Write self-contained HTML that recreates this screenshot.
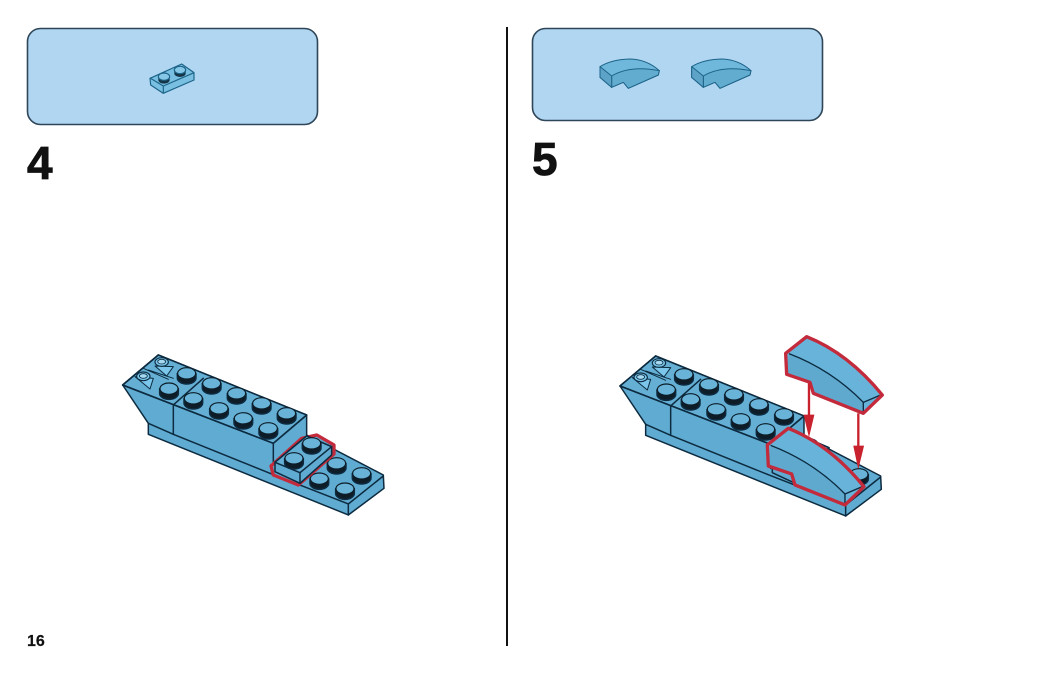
<!DOCTYPE html>
<html>
<head>
<meta charset="utf-8">
<title>Building steps 4 and 5</title>
<style>
html,body{margin:0;padding:0;background:#fff;width:1050px;height:673px;overflow:hidden}
svg{display:block}
text{font-family:"Liberation Sans",sans-serif;font-weight:700;fill:#111;stroke:#111}
</style>
</head>
<body>
<svg width="1050" height="673" viewBox="0 0 1050 673" xmlns="http://www.w3.org/2000/svg">
<defs>
<filter id="b" x="-5%" y="-5%" width="110%" height="110%"><feGaussianBlur stdDeviation="0.3"/></filter>
<g id="stud">
<path d="M-28,0 V14 A28,18 0 0 0 28,14 V0 Z" fill="#081d28"/>
<ellipse cx="0" cy="0" rx="27" ry="17" fill="#69b3d9" stroke="#081d28" stroke-width="3.5"/>
</g>
<g id="model" stroke="#0a2c3f" stroke-width="4.5" stroke-linejoin="round" stroke-linecap="round" fill="none">
<path d="M145,45 L590,225 V285 L820,405 L822,445 L715,525 L115,283 V250 L38,135 Z" fill="#61abd1"/>
<path d="M145,45 L590,225 L490,310 L38,135 Z" fill="#65afd5"/>
<path d="M38,135 L490,310 L590,225"/>
<path d="M190,195 L280,115"/>
<path d="M190,195 V283"/>
<path d="M490,310 V382"/>
<path d="M115,250 L190,283 L480,400"/>
<path d="M480,400 L715,492 L820,408"/>
<path d="M715,492 V525"/>
<path d="M145,45 L38,135"/>
<path d="M115,90 L190,115 M100,85 L175,118" stroke-width="3"/>
<path d="M135,78 L190,80 L170,108 Z" fill="#7cc6ec" stroke-width="3"/>
<path d="M75,110 L130,115 L120,147 Z" fill="#7cc6ec" stroke-width="3"/>
<ellipse cx="155" cy="66" rx="20" ry="13" fill="#7cc6ec" stroke-width="3.5"/>
<ellipse cx="155" cy="65" rx="12" ry="7" fill="#a5d9f2" stroke-width="2.5"/>
<ellipse cx="100" cy="109" rx="20" ry="13" fill="#7cc6ec" stroke-width="3.5"/>
<ellipse cx="100" cy="108" rx="12" ry="7" fill="#a5d9f2" stroke-width="2.5"/>
<use href="#stud" x="230" y="100"/>
<use href="#stud" x="305" y="130"/>
<use href="#stud" x="380" y="160"/>
<use href="#stud" x="455" y="190"/>
<use href="#stud" x="530" y="220"/>
<use href="#stud" x="177" y="146"/>
<use href="#stud" x="250" y="175"/>
<use href="#stud" x="327" y="205"/>
<use href="#stud" x="400" y="235"/>
<use href="#stud" x="475" y="265"/>
<use href="#stud" x="680" y="370"/>
<use href="#stud" x="755" y="400"/>
<use href="#stud" x="628" y="416"/>
<use href="#stud" x="705" y="446"/>
</g>
<g id="plate" stroke="#0a2c3f" stroke-width="4.5" stroke-linejoin="round" fill="none">
<path d="M495,367 L590,288 L665,320 V345 L570,430 L495,395 Z" fill="#61abd1"/>
<path d="M495,367 L590,288 L665,320 L570,398 Z" fill="#65afd5"/>
<path d="M570,398 V430"/>
<use href="#stud" x="605" y="310"/>
<use href="#stud" x="552" y="355"/>
</g>
<g id="slope" stroke-linejoin="round" fill="none">
<path d="M472,345 L535,295 Q660,345 762,470 L705,525 L555,465 L545,432 L475,408 Z" fill="#68b3d9"/>
<path d="M482,346 Q610,395 705,492 V522 L555,465 L545,432 L475,408 Z" fill="#5fa9cf"/>
<path d="M482,346 Q610,395 705,492 L757,470 M705,492 V522" stroke="#0a2c3f" stroke-width="4"/>
<path d="M472,345 L535,295 Q660,345 762,470 L705,525 L555,465 L545,432 L475,408 Z" stroke="#c32a3a" stroke-width="10"/>
</g>
<g id="mini" stroke="#1f6488" stroke-width="3" stroke-linejoin="round" fill="none">
<path d="M30,50 Q65,28 120,27 Q170,28 208,62 L205,75 L115,115 L100,97 L65,112 L30,82 Z" fill="#6fb8db"/>
<path d="M65,78 Q120,45 208,62 L205,75 L115,115 L100,97 L65,112 Z" fill="#62acd0"/>
<path d="M30,50 L65,78 V112 L30,82 Z" fill="#5ca3c7"/>
</g>
</defs>

<rect x="27.5" y="28.5" width="290" height="96" rx="13" fill="#b0d6f2" stroke="#2f4658" stroke-width="1.6"/>
<rect x="532.5" y="28.5" width="290" height="92" rx="13" fill="#b0d6f2" stroke="#2f4658" stroke-width="1.6"/>
<rect x="506" y="27" width="2" height="619" fill="#111"/>

<text x="27" y="179" font-size="46" stroke-width="0.8">4</text>
<text x="532" y="175" font-size="46" stroke-width="0.8">5</text>
<text x="27" y="646" font-size="16" stroke-width="0.2">16</text>

<g filter="url(#b)">
<!-- mini plate -->
<g transform="translate(130,50) scale(0.3333)" stroke="#1f6488" stroke-width="3.5" stroke-linejoin="round" fill="none">
<path d="M60,85 L155,42 L192,68 V90 L100,130 L62,105 Z" fill="#79bfe2"/>
<path d="M62,85 L100,108 L192,68 M100,108 V130"/>
<path d="M85,80 V90 A17,11 0 0 0 119,90 V80 Z" fill="#123447" stroke="none"/>
<ellipse cx="102" cy="80" rx="17" ry="11" fill="#86c6e6"/>
<path d="M133,60 V70 A17,11 0 0 0 167,70 V60 Z" fill="#123447" stroke="none"/>
<ellipse cx="150" cy="60" rx="17" ry="11" fill="#86c6e6"/>
</g>
<!-- mini slopes -->
<g transform="translate(590,50) scale(0.3333)"><use href="#mini"/></g>
<g transform="translate(681.67,50) scale(0.3333)"><use href="#mini"/></g>

<!-- step 4 -->
<g transform="translate(110,340) scale(0.3333)">
<use href="#model"/>
<path d="M483,378 L575,295 L620,285 L672,315 V342 L565,435 L490,405 Z" fill="#61abd1" stroke="#c32a3a" stroke-width="10" stroke-linejoin="round"/>
<use href="#plate"/>
</g>

<!-- step 5 -->
<g transform="translate(610,330) scale(0.3333)">
<g transform="translate(-8,33)">
<use href="#model"/>
<use href="#plate"/>
</g>
<use href="#slope"/>
<g transform="translate(55,-275)"><use href="#slope"/></g>
<g fill="#c8222f" stroke="#c8222f" stroke-linejoin="round">
<path d="M597,160 V265" stroke-width="7" fill="none"/>
<path d="M582,255 H612 L597,318 Z" stroke-width="2"/>
<path d="M745,250 V352" stroke-width="7" fill="none"/>
<path d="M731,348 H761 L745,414 Z" stroke-width="2"/>
</g>
</g>
</g>
</svg>
</body>
</html>
